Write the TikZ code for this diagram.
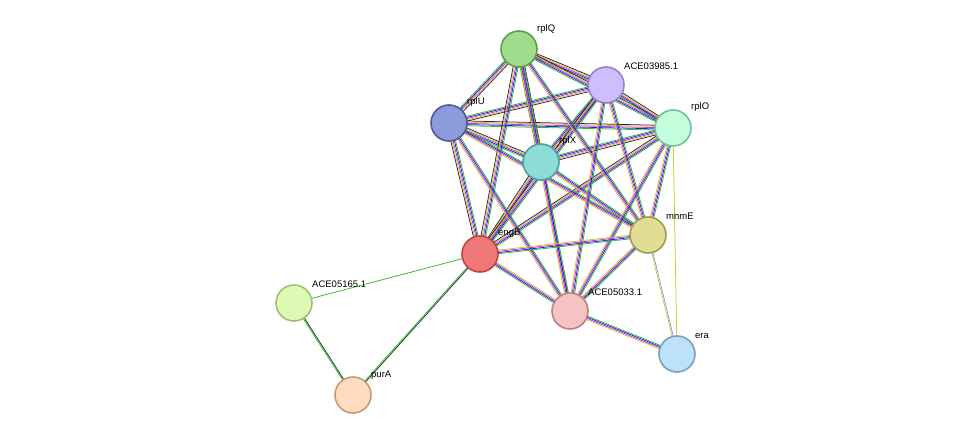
\documentclass[tikz,border=0pt]{standalone}
\usepackage{fontspec}
\setmainfont{Liberation Sans}
\usetikzlibrary{calc}
\definecolor{eG}{RGB}{40,190,40}
\definecolor{eM}{RGB}{220,40,220}
\definecolor{eB}{RGB}{30,30,230}
\definecolor{eY}{RGB}{200,200,40}
\definecolor{eK}{RGB}{40,40,40}
\definecolor{eC}{RGB}{110,170,230}
\definecolor{eP}{RGB}{140,100,220}
\newcommand\bund[4]{%
  \foreach \c [count=\i] in {#4} {%
    \pgfmathsetmacro\off{(\i-0.5-#3/2)*1.2}%
    \draw[draw=\c,line width=0.75pt] ($(#1)!\off pt!90:(#2)$) -- ($(#2)!\off pt!-90:(#1)$);
  }}
\tikzset{nd/.style={circle,minimum size=36pt,inner sep=0pt,line width=1.6pt},
 lb/.style={font=\fontsize{9.5}{10}\selectfont,anchor=south west,inner sep=1pt}}
\begin{document}
\begin{tikzpicture}[x=1pt,y=-1pt]
\useasboundingbox (0,0) rectangle (975,441);
\coordinate (rplQ) at (519,49);
\coordinate (ACEa) at (606,85);
\coordinate (rplU) at (449,123);
\coordinate (rplO) at (673,128);
\coordinate (rplX) at (541,162);
\coordinate (mnmE) at (648,235);
\coordinate (engB) at (480,254);
\coordinate (ACEb) at (294,303);
\coordinate (ACEc) at (570,311);
\coordinate (era) at (677,354);
\coordinate (purA) at (353,395);
% edges
\foreach \a/\b in {rplQ/ACEa,rplQ/rplU,rplQ/rplO,rplQ/rplX,ACEa/rplU,ACEa/rplO,ACEa/rplX,rplU/rplO,rplU/rplX,rplO/rplX,engB/rplQ,engB/rplU,engB/rplX,engB/rplO,engB/ACEa}
  {\bund{\a}{\b}{5}{eG,eB,eM,eY,eK}}
\foreach \a/\b in {mnmE/rplQ,mnmE/ACEa,mnmE/rplO,mnmE/rplX,mnmE/rplU,ACEc/rplQ,ACEc/ACEa,ACEc/rplO,ACEc/rplX,ACEc/rplU,ACEc/mnmE,engB/mnmE,engB/ACEc}
  {\bund{\a}{\b}{4}{eG,eB,eM,eY}}
\bund{era}{ACEc}{4}{eG,eB,eM,eY}
\bund{era}{mnmE}{2}{eC,eY}
\bund{era}{rplO}{1}{eY}
\bund{engB}{ACEb}{1}{eG}
\bund{engB}{purA}{2}{eG,eK}
\bund{ACEb}{purA}{2}{eG,eK}
% nodes
\node[nd,fill={rgb,255:red,160;green,220;blue,140},draw={rgb,255:red,90;green,160;blue,80}] (nQ) at (rplQ) {};
\node[nd,fill={rgb,255:red,205;green,190;blue,255},draw={rgb,255:red,150;green,130;blue,200}] (nA) at (ACEa) {};
\node[nd,fill={rgb,255:red,140;green,155;blue,220},draw={rgb,255:red,80;green,90;blue,150}] (nU) at (rplU) {};
\node[nd,fill={rgb,255:red,195;green,255;blue,220},draw={rgb,255:red,120;green,190;blue,150}] (nO) at (rplO) {};
\node[nd,fill={rgb,255:red,140;green,220;blue,215},draw={rgb,255:red,80;green,160;blue,150}] (nX) at (rplX) {};
\node[nd,fill={rgb,255:red,225;green,220;blue,150},draw={rgb,255:red,160;green,155;blue,80}] (nM) at (mnmE) {};
\node[nd,fill={rgb,255:red,240;green,120;blue,120},draw={rgb,255:red,190;green,70;blue,70}] (nE) at (engB) {};
\node[nd,fill={rgb,255:red,220;green,250;blue,180},draw={rgb,255:red,160;green,190;blue,120}] (nB) at (ACEb) {};
\node[nd,fill={rgb,255:red,245;green,195;blue,195},draw={rgb,255:red,190;green,130;blue,130}] (nC) at (ACEc) {};
\node[nd,fill={rgb,255:red,190;green,225;blue,250},draw={rgb,255:red,120;green,160;blue,190}] (nR) at (era) {};
\node[nd,fill={rgb,255:red,255;green,220;blue,190},draw={rgb,255:red,195;green,155;blue,120}] (nP) at (purA) {};
% labels
\node[lb] (tQ) at (536,35) {rplQ};
\node[lb] (tA) at (623,71) {ACE03985.1};
\node[lb] (tU) at (466,108) {rplU};
\node[lb] (tO) at (690,113) {rplO};
\node[lb] (tX) at (558,147) {rplX};
\node[lb] (tM) at (665,221) {mnmE};
\node[lb] (tE) at (497,239) {engB};
\node[lb] (tB) at (311,289) {ACE05165.1};
\node[lb] (tC) at (587,297) {ACE05033.1};
\node[lb] (tR) at (694,340) {era};
\node[lb] (tP) at (370,381) {purA};
\end{tikzpicture}
\end{document}
